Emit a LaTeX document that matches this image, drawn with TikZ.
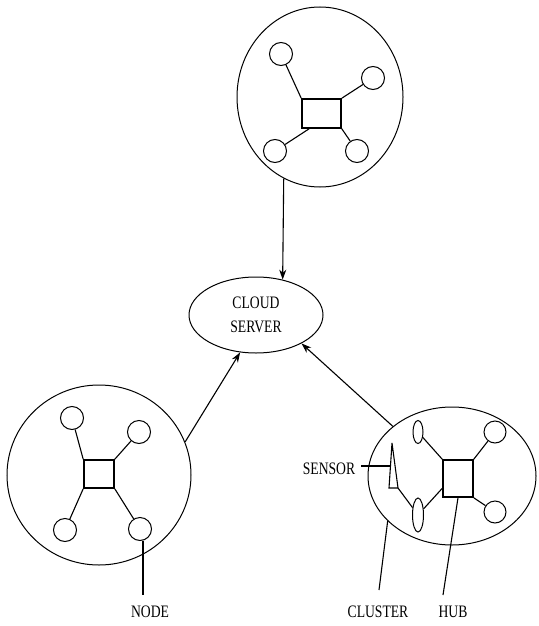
\documentclass[tikz,border=0pt]{standalone}
\usepackage{fontspec}
\usetikzlibrary{shapes.geometric,arrows.meta}
\newfontfamily\labelfont[FakeStretch=0.78]{Liberation Serif}

\tikzset{
  link/.style={line width=1.1pt},
  feed/.style={line width=1.1pt,-{Stealth[length=10pt,width=7pt]}},
  cluster/.style={draw,ellipse,line width=1pt,inner sep=0pt},
  member/.style={draw,circle,line width=1pt,minimum size=23pt,inner sep=0pt},
  probe/.style={draw,ellipse,line width=1pt,inner sep=0pt},
  hubbox/.style={draw,rectangle,line width=1.6pt,inner sep=0pt},
  caption/.style={font=\labelfont\fontsize{17.5}{24}\selectfont,inner sep=1pt,align=center},
}

\begin{document}
\begin{tikzpicture}[x=1pt,y=-1pt]
\useasboundingbox (0,0) rectangle (538,626);

% cloud server
\node[cluster,minimum width=134pt,minimum height=76pt,caption] (cloud) at (256,315) {CLOUD\\SERVER};

% top cluster
\node[cluster,minimum width=166pt,minimum height=180pt] (topc) at (320,97) {};
\node[hubbox,minimum width=39pt,minimum height=29pt] (hubT) at (321.5,113.5) {};
\node[member] (t1) at (281,54) {};
\node[member] (t2) at (373,78) {};
\node[member] (t3) at (275,151) {};
\node[member] (t4) at (357,151) {};
\draw[link] (hubT.north west) -- (t1);
\draw[link] (hubT.north east) -- (t2);
\draw[link] (hubT.231) -- (t3);
\draw[link] (hubT.south east) -- (t4);

% left cluster
\node[cluster,minimum width=184pt,minimum height=180pt] (leftc) at (99,475) {};
\node[hubbox,minimum width=30pt,minimum height=28pt] (hubL) at (99,474) {};
\node[member] (l1) at (72,418) {};
\node[member] (l2) at (139,432) {};
\node[member] (l3) at (65,530) {};
\node[member] (l4) at (140,529) {};
\draw[link] (hubL.north west) -- (l1);
\draw[link] (hubL.north east) -- (l2);
\draw[link] (hubL.south west) -- (l3);
\draw[link] (hubL.south east) -- (l4);

% right cluster with sensors
\node[cluster,minimum width=168pt,minimum height=138pt] (rightc) at (452,476) {};
\node[hubbox,minimum width=30pt,minimum height=37pt] (hubR) at (458,478.5) {};
\node[probe,minimum width=10pt,minimum height=23pt] (e1) at (418,432) {};
\node[probe,minimum width=11pt,minimum height=34pt] (e2) at (418,515) {};
\node[member,minimum size=22pt] (r1) at (495,432) {};
\node[member,minimum size=22pt] (r2) at (495,512) {};
\draw[link] (hubR.north west) -- (e1);
\draw[link] (hubR.212) -- (e2);
\draw[link] (hubR.north east) -- (r1);
\draw[link] (hubR.south east) -- (r2);

% sensor triangle
\coordinate (s1) at (392,443);
\coordinate (s2) at (389,488);
\coordinate (s3) at (398,488);
\coordinate (sside) at (390.5,466);
\draw[link] (s1) -- (s2) -- (s3) -- cycle;
\draw[link] (s3) -- (e2);

% uplinks to the cloud server
\draw[feed] (topc.246) -- (cloud.53);
\draw[feed] (leftc.21) -- (cloud.247);
\draw[feed] (rightc.140) -- (cloud.-32);

% labels
\node[caption] (sensorlbl) at (329,469) {SENSOR};
\draw[link] (sensorlbl.east) ++(5,-3) coordinate (sstart) (sstart) -- (sside);

\node[caption] (nodelbl) at (150,612) {NODE};
\coordinate (nodeend) at (143,595);
\draw[link] (l4.south) ++(3,0) coordinate (nstart) (nstart) -- (nodeend);

\node[caption] (clusterlbl) at (378,612) {CLUSTER};
\coordinate (clusterend) at (379,590);
\draw[link] (rightc.215) -- (clusterend);

\node[caption] (hublbl) at (453,612) {HUB};
\coordinate (hubend) at (443,595);
\draw[link] (hubR.south) -- (hubend);
\end{tikzpicture}
\end{document}
